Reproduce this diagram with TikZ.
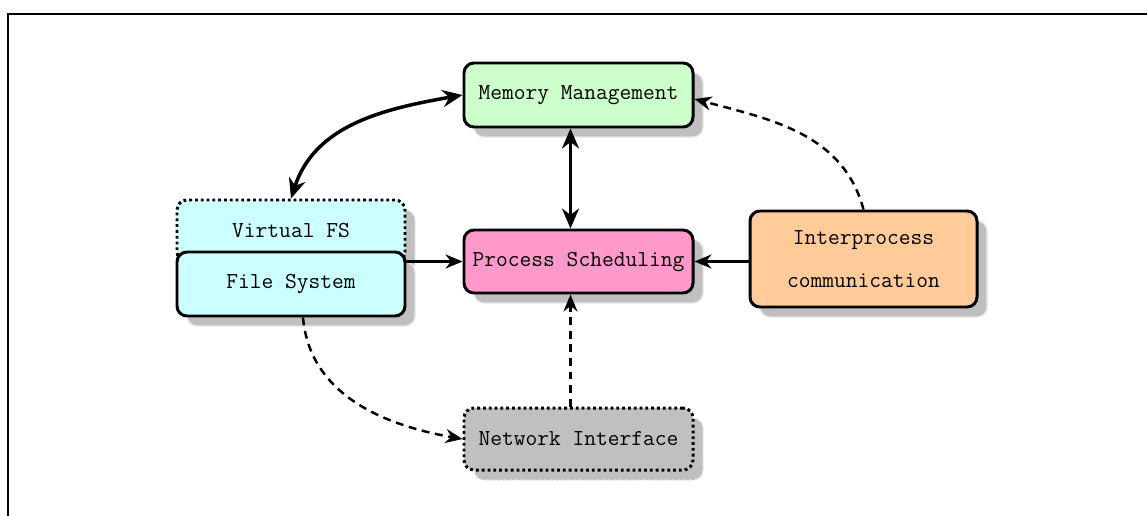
\documentclass[tikz,border=0pt]{standalone}
\usepackage{tikz}
\usetikzlibrary{arrows.meta,shadows}

\begin{document}
\begin{tikzpicture}[
        sys_block/.style={draw, rectangle, rounded corners=0.2cm, minimum width=4.58cm, minimum height=1.28cm, align=center, line width=1.7pt, font=\fontsize{13pt}{24pt}\selectfont\ttfamily,
            drop shadow={shadow xshift=0.2cm, shadow yshift=-0.2cm, fill=gray!50, draw=gray!20, line width=0.8pt, opacity=1}},
        dotted_block/.style={sys_block, dash pattern=on 1.6pt off 1.7pt},
        arrow/.style={arrows={-Stealth[length=0.34cm, width=0.28cm]}, line width=1.4pt},
        thick_arrow/.style={arrows={Stealth[length=0.4cm, width=0.34cm]-Stealth[length=0.4cm, width=0.34cm]}, line width=2pt},
        dashed_arrow/.style={arrows={-Stealth[length=0.34cm, width=0.28cm]}, line width=1.4pt, dash pattern=on 4.5pt off 3.2pt}
    ]
        \useasboundingbox (0,0) rectangle (22.94,-10.30);

        % frame
        \draw[line width=1.2pt] (0.16,-11) -- (0.16,-0.28) -- (24,-0.28);

        % subsystems
        \node (mem) at (11.57, -1.90) [sys_block, fill={rgb,255:red,204;green,255;blue,204}] {Memory Management};
        \node (proc) at (11.57, -5.23) [sys_block, fill={rgb,255:red,255;green,153;blue,204}, minimum height=1.26cm] {Process Scheduling};
        \node (ipc) at (17.27, -5.18) [sys_block, fill={rgb,255:red,255;green,204;blue,153}, minimum width=4.54cm, minimum height=1.92cm] {Interprocess\\communication};
        \node (net) at (11.57, -8.78) [dotted_block, fill={rgb,255:red,192;green,192;blue,192}, minimum height=1.24cm] {Network Interface};

        \node (vfs) at (5.82, -4.62) [dotted_block, fill={rgb,255:red,204;green,255;blue,255}, minimum width=4.56cm, minimum height=1.24cm] {Virtual FS};
        \node (fs) at (5.82, -5.68) [sys_block, fill={rgb,255:red,204;green,255;blue,255}, minimum width=4.56cm] {File System};

        % Connections
        \draw [thick_arrow] (vfs.north) to[out=72, in=190] (mem.west);
        \draw [thick_arrow] ([xshift=-0.16cm]mem.south) -- ([xshift=-0.16cm]proc.north);
        \draw [arrow] (proc.west -| fs.east) -- (proc.west);
        \draw [arrow] (ipc.west |- proc.east) -- (proc.east);
        \draw [dashed_arrow] ([xshift=-0.16cm]net.north) -- ([xshift=-0.16cm]proc.south);
        \draw [dashed_arrow] ([xshift=0.24cm]fs.south) to[out=-85, in=170] (net.west);
        \draw [dashed_arrow] (ipc.north) to[out=105, in=-15] ([yshift=-0.08cm]mem.east);

    \end{tikzpicture}
\end{document}
